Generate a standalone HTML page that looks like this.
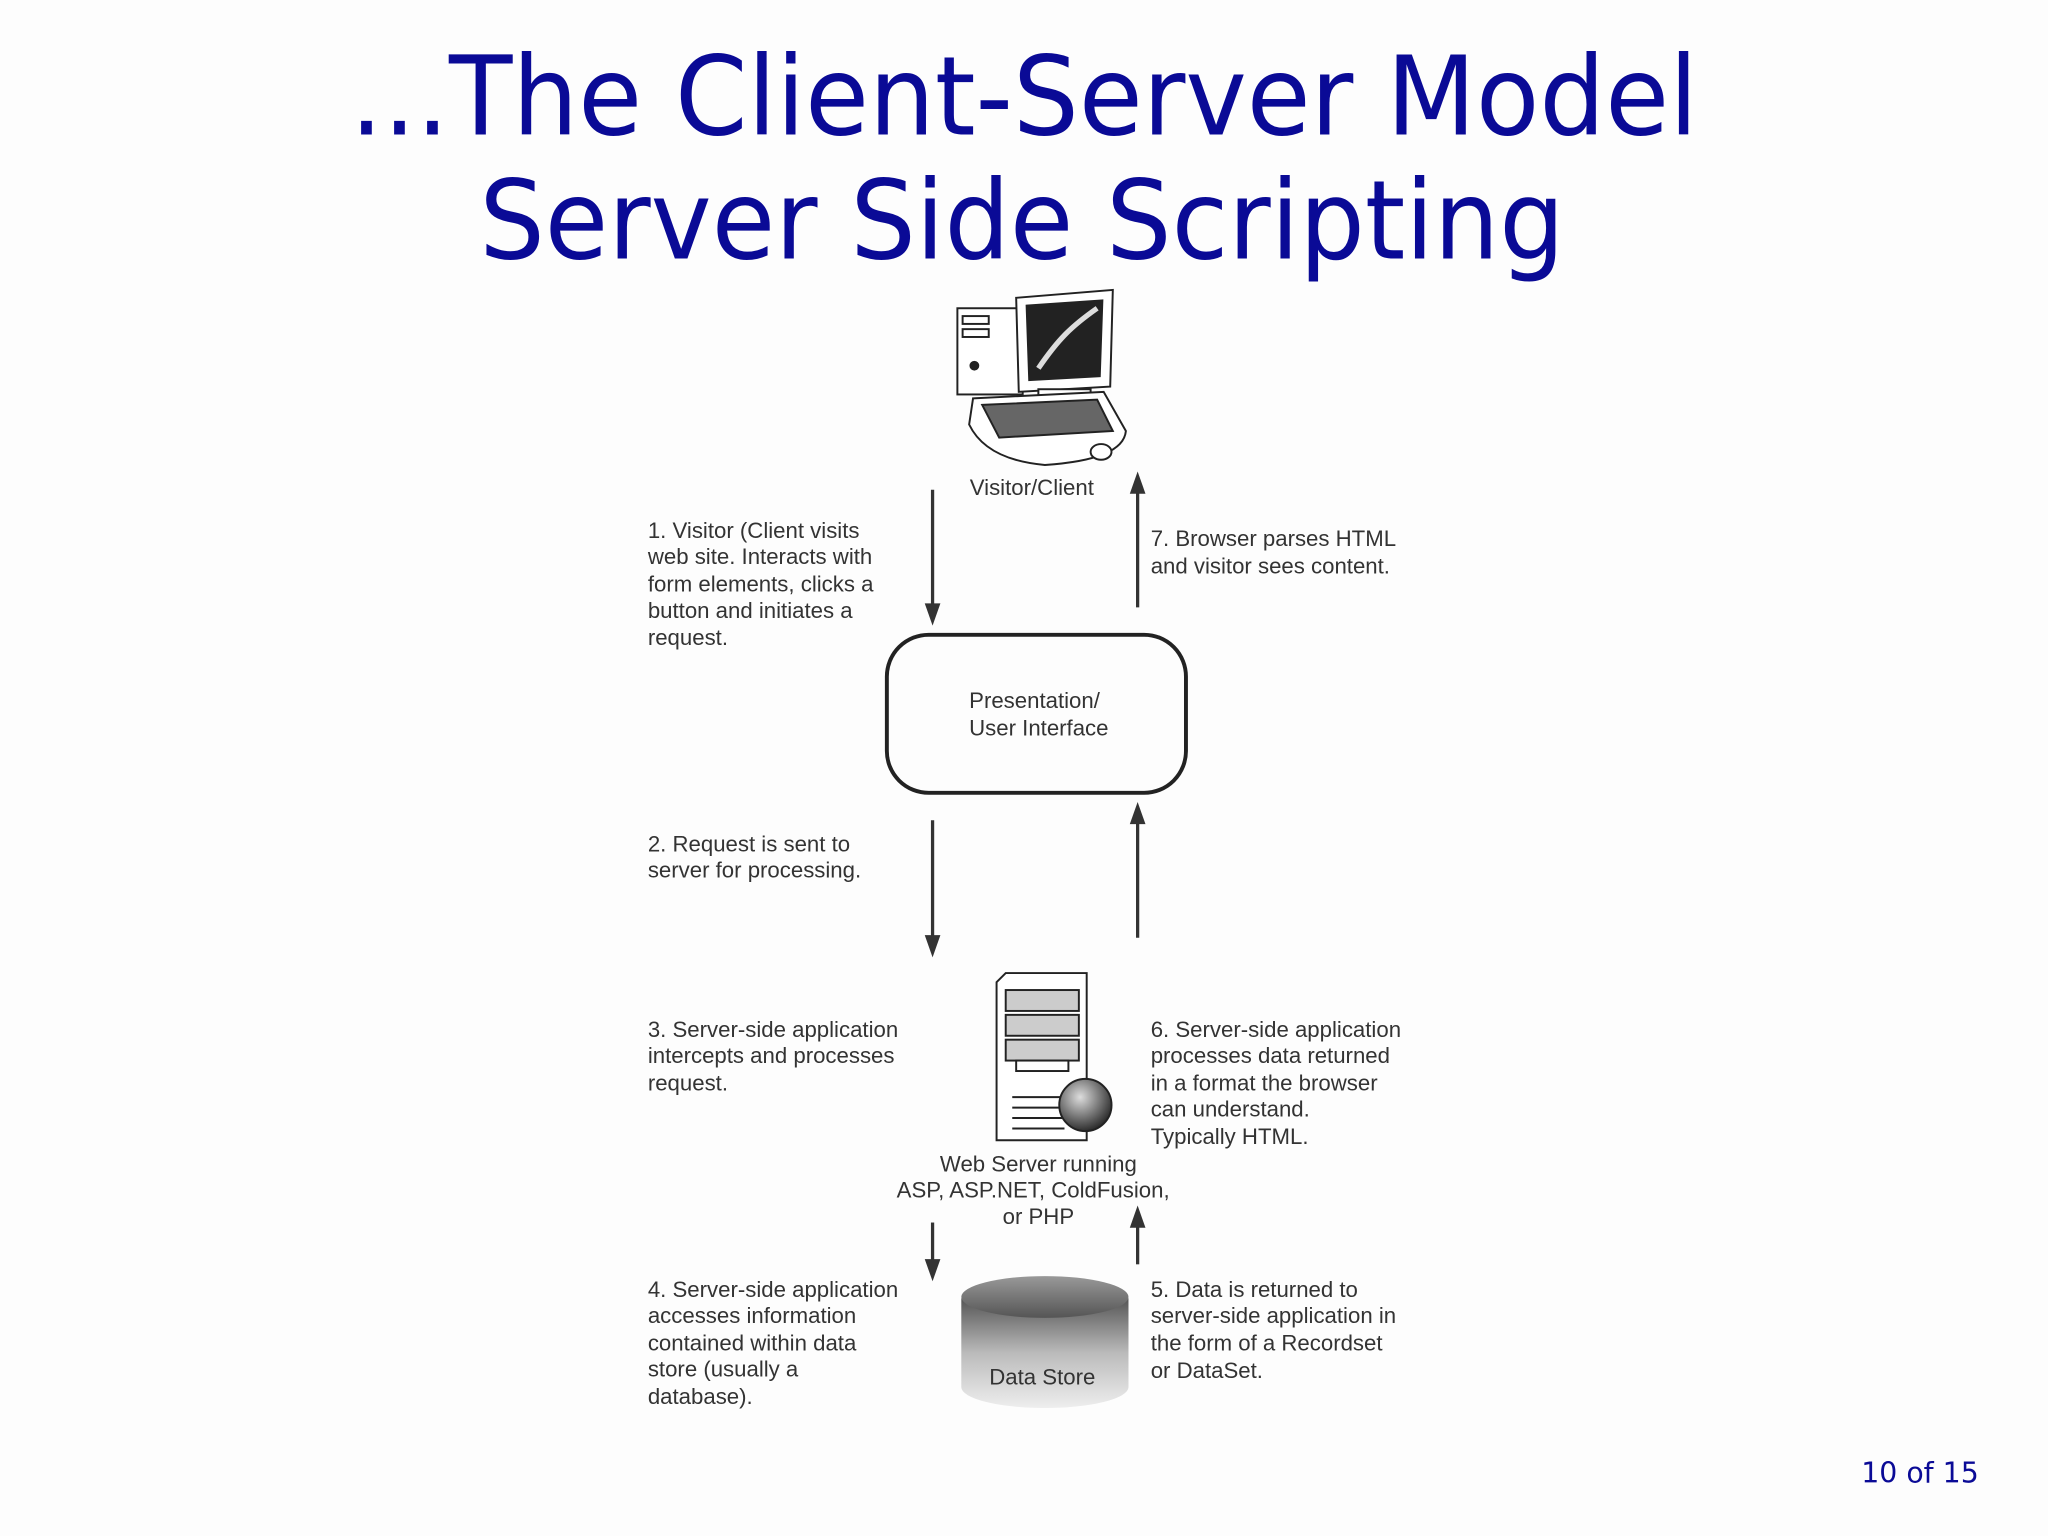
<!DOCTYPE html>
<html><head><meta charset="utf-8"><style>
html,body{margin:0;padding:0;background:#fdfdfd;}
svg{display:block}
</style></head><body>
<svg width="2048" height="1536" viewBox="0 0 1568 1176" xmlns="http://www.w3.org/2000/svg">
<defs>
<linearGradient id="cyl" x1="0" y1="0" x2="0" y2="1">
<stop offset="0" stop-color="#555"/><stop offset="0.5" stop-color="#bbb"/><stop offset="1" stop-color="#eee"/>
</linearGradient>
<linearGradient id="cylt" x1="0" y1="0" x2="0" y2="1">
<stop offset="0" stop-color="#999"/><stop offset="1" stop-color="#555"/>
</linearGradient>
<radialGradient id="glb" cx="0.4" cy="0.35" r="0.7"><stop offset="0" stop-color="#ddd"/><stop offset="1" stop-color="#222"/></radialGradient>
</defs>
<rect width="1568" height="1176" fill="#fdfdfd"/>
<g font-family="'DejaVu Sans','Liberation Sans',sans-serif" fill="#0a0a96" font-size="84">
<text x="268" y="103" textLength="1032" lengthAdjust="spacingAndGlyphs">...The Client-Server Model</text>
<text x="367" y="198" textLength="831" lengthAdjust="spacingAndGlyphs">Server Side Scripting</text>
<text x="1425" y="1135" font-size="22" textLength="90" lengthAdjust="spacingAndGlyphs">10 of 15</text>
</g>
<g stroke="#222" stroke-width="1.5" fill="#fff">
<rect x="733" y="236" width="50" height="66"/>
<rect x="737" y="242" width="20" height="6"/><rect x="737" y="252" width="20" height="6"/>
<circle cx="746" cy="280" r="3" fill="#222"/>
<polygon points="778,228 852,222 850,296 780,300"/>
<polygon points="786,234 844,230 842,288 788,291" fill="#222"/>
<path d="M795,282 C810,260 820,250 840,236" stroke="#ddd" stroke-width="4" fill="none"/>
<rect x="795" y="298" width="40" height="8"/>
<path d="M745,305 L845,300 L862,330 Q860,352 800,356 Q755,352 742,325 Z"/>
<path d="M752,310 L840,306 L852,330 L765,335 Z" fill="#666"/>
<ellipse cx="843" cy="346" rx="8" ry="6"/>
</g>
<g font-family="'Liberation Sans',sans-serif" font-size="17" fill="#333">
<text x="790" y="379" text-anchor="middle">Visitor/Client</text>
<text x="496" y="412">1. Visitor (Client visits</text>
<text x="496" y="432">web site.  Interacts with</text>
<text x="496" y="453">form elements, clicks a</text>
<text x="496" y="473">button and initiates a</text>
<text x="496" y="494">request.</text>
<text x="881" y="418">7. Browser parses HTML</text>
<text x="881" y="439">and visitor sees content.</text>
<text x="742" y="542">Presentation/</text>
<text x="742" y="563">User Interface</text>
<text x="496" y="652">2. Request is sent to</text>
<text x="496" y="672">server for processing.</text>
<text x="496" y="794">3. Server-side application</text>
<text x="496" y="814">intercepts and processes</text>
<text x="496" y="835">request.</text>
<text x="881" y="794">6. Server-side application</text>
<text x="881" y="814">processes data returned</text>
<text x="881" y="835">in a format the browser</text>
<text x="881" y="855">can understand.</text>
<text x="881" y="876">Typically HTML.</text>
<text x="795" y="897" text-anchor="middle">Web Server running</text>
<text x="791" y="917" text-anchor="middle">ASP, ASP.NET, ColdFusion,</text>
<text x="795" y="937" text-anchor="middle">or PHP</text>
<text x="496" y="993">4. Server-side application</text>
<text x="496" y="1013">accesses information</text>
<text x="496" y="1034">contained within data</text>
<text x="496" y="1054">store (usually a</text>
<text x="496" y="1075">database).</text>
<text x="881" y="993">5. Data is returned to</text>
<text x="881" y="1013">server-side application in</text>
<text x="881" y="1034">the form of a Recordset</text>
<text x="881" y="1055">or DataSet.</text>
</g>
<rect x="679" y="486" width="229" height="121" rx="32" fill="none" stroke="#222" stroke-width="3"/>
<g stroke="#333" stroke-width="2.5" fill="#333">
<line x1="714" y1="375" x2="714" y2="468"/><polygon points="708,462 720,462 714,479" stroke="none"/>
<line x1="871" y1="465" x2="871" y2="372"/><polygon points="865,378 877,378 871,361" stroke="none"/>
<line x1="714" y1="628" x2="714" y2="722"/><polygon points="708,716 720,716 714,733" stroke="none"/>
<line x1="871" y1="718" x2="871" y2="625"/><polygon points="865,631 877,631 871,614" stroke="none"/>
<line x1="714" y1="936" x2="714" y2="970"/><polygon points="708,964 720,964 714,981" stroke="none"/>
<line x1="871" y1="968" x2="871" y2="934"/><polygon points="865,940 877,940 871,923" stroke="none"/>
</g>
<g stroke="#222" stroke-width="1.5" fill="#fff">
<polygon points="763,752 770,745 832,745 832,873 763,873"/>
<rect x="770" y="758" width="56" height="16" fill="#ccc"/>
<rect x="770" y="777" width="56" height="16" fill="#ccc"/>
<rect x="770" y="796" width="56" height="16" fill="#ccc"/>
<rect x="778" y="812" width="40" height="8"/>
<line x1="775" y1="840" x2="815" y2="840"/><line x1="775" y1="848" x2="815" y2="848"/><line x1="775" y1="856" x2="815" y2="856"/><line x1="775" y1="864" x2="815" y2="864"/>
<circle cx="831" cy="846" r="20" fill="url(#glb)"/>
</g>
<path d="M736,994 L736,1062 A64,16 0 0 0 864,1062 L864,994 Z" fill="url(#cyl)"/>
<ellipse cx="800" cy="993" rx="64" ry="16" fill="url(#cylt)"/>
<text x="798" y="1060" text-anchor="middle" font-family="'Liberation Sans',sans-serif" font-size="17" fill="#333">Data Store</text>
</svg>
</body></html>
